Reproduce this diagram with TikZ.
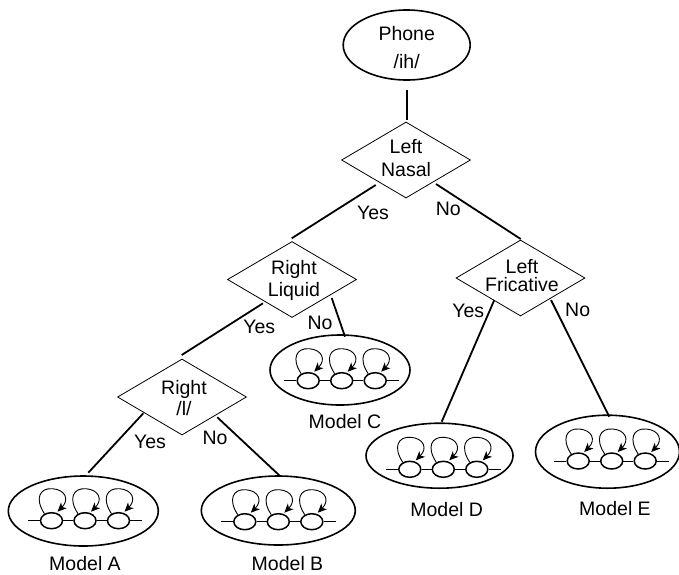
\documentclass[tikz,border=0pt]{standalone}
\usepackage{fontspec}
\setmainfont{Liberation Sans}
\usetikzlibrary{shapes.geometric,arrows.meta,calc}

% one HMM: outer ellipse, three states in a row, lead-in/out lines, self loops
% #1 name, #2 ellipse centre, #3 width, #4 height, #5 centre of the middle state
\newcommand\hmmmodel[5]{%
  \node[model, minimum width=#3, minimum height=#4] (#1) at #2 {};
  \node[hstate] (#1s2) at #5 {};
  \node[hstate] (#1s1) at ($(#1s2)+(-33.5,0)$) {};
  \node[hstate] (#1s3) at ($(#1s2)+(33.5,0)$) {};
  \draw[hmmline] ($(#1s1.west)+(-12,0)$) -- (#1s1.west);
  \draw[hmmline] (#1s1.east) -- (#1s2.west);
  \draw[hmmline] (#1s2.east) -- (#1s3.west);
  \draw[hmmline] (#1s3.east) -- ($(#1s3.east)+(12,0)$);
  \foreach \s in {1,2,3}{%
    \draw[selfloop] ($(#1s\s)+(-7,-7)$)
      .. controls ($(#1s\s)+(-17,-22)$) and ($(#1s\s)+(-12,-33)$) .. ($(#1s\s)+(1,-32)$)
      .. controls ($(#1s\s)+(14,-31)$) and ($(#1s\s)+(18,-21)$) .. ($(#1s\s)+(6,-9)$);
  }%
}

\begin{document}
\begin{tikzpicture}[x=1pt,y=-1pt,
  txt/.style={font=\fontsize{19.5}{23}\selectfont, align=center, inner sep=0pt},
  edge/.style={line width=1.8pt},
  test/.style={shape=diamond, draw, line width=0.8pt, minimum width=129pt,
    minimum height=76pt, inner sep=0pt},
  model/.style={shape=ellipse, draw, line width=1.6pt, inner sep=0pt},
  hstate/.style={shape=ellipse, draw, line width=1.5pt, minimum width=22pt,
    minimum height=16pt, inner sep=0pt},
  hmmline/.style={line width=0.8pt},
  selfloop/.style={line width=0.9pt, -{Stealth[length=9pt,width=8pt,inset=2.5pt]}},
]
\useasboundingbox (0,0) rectangle (679,574);

% root and questions
\node[model, minimum width=127pt, minimum height=70pt] (Phone) at (406.7,45) {};
\node[txt, font=\fontsize{19.5}{28.7}\selectfont] (Phonet) at (406.7,47.5) {Phone\\/ih/};

\node[test] (LN) at (406,160) {};
\node[txt, font=\fontsize{19.5}{23.3}\selectfont] (LNt) at (406,158.3) {Left\\Nasal};

\node[test] (RL) at (292,279.5) {};
\node[txt, font=\fontsize{19.5}{21.3}\selectfont] (RLt) at (294,280.3) {Right\\Liquid};

\node[test] (LF) at (520.5,278) {};
\node[txt, font=\fontsize{19.5}{18.2}\selectfont] (LFt) at (522,275.7) {Left\\Fricative};

\node[test] (RR) at (182,397) {};
\node[txt, font=\fontsize{19.5}{21}\selectfont] (RRt) at (184,397.8) {Right\\/l/};

% leaves
\hmmmodel{A}{(83.3,511)}{150pt}{70pt}{(85,520.7)}
\hmmmodel{B}{(278.3,510.5)}{154pt}{69pt}{(278.3,521.7)}
\hmmmodel{C}{(340,370)}{140pt}{70pt}{(341.7,380.7)}
\hmmmodel{D}{(439.5,455.7)}{147pt}{65pt}{(443.3,469.3)}
\hmmmodel{E}{(607.5,451.7)}{144pt}{73pt}{(611.7,461)}

\node[txt] (At) at (85,563.5) {Model A};
\node[txt] (Bt) at (287.5,564) {Model B};
\node[txt] (Ct) at (345,422) {Model C};
\node[txt] (Dt) at (446.7,510) {Model D};
\node[txt] (Et) at (615,508.3) {Model E};

% branches
\draw[edge] ($(Phone)+(0,45)$) -- ($(LN)+(0.7,-40)$);
\draw[edge] ($(LN)+(-30.3,25)$) -- ($(RL)+(-0.3,-41.2)$);
\draw[edge] ($(LN)+(30,24)$) -- ($(LF)+(0.2,-39)$);
\draw[edge] ($(RL)+(-29,23.8)$) -- ($(RR)+(-0.3,-42)$);
\draw[edge] ($(RL)+(39.7,18.5)$) -- ($(C)+(5,-33.3)$);
\draw[edge] ($(RR)+(-38.7,16.3)$) -- ($(A)+(5,-38.3)$);
\draw[edge] ($(RR)+(35.3,20.3)$) -- ($(B)+(1.7,-34.5)$);
\draw[edge] ($(LF)+(-26.2,22)$) -- ($(D)+(2.2,-34)$);
\draw[edge] ($(LF)+(30.5,22)$) -- ($(E)+(1.8,-35)$);

% branch answers
\node[txt] (LNyes) at (373,212.7) {Yes};
\node[txt] (LNno) at (448.3,209.3) {No};
\node[txt] (RLyes) at (259.3,326.7) {Yes};
\node[txt] (RLno) at (320,323) {No};
\node[txt] (RRyes) at (150,441.7) {Yes};
\node[txt] (RRno) at (215,438.3) {No};
\node[txt] (LFyes) at (468.3,311) {Yes};
\node[txt] (LFno) at (577.7,310) {No};
\end{tikzpicture}
\end{document}
